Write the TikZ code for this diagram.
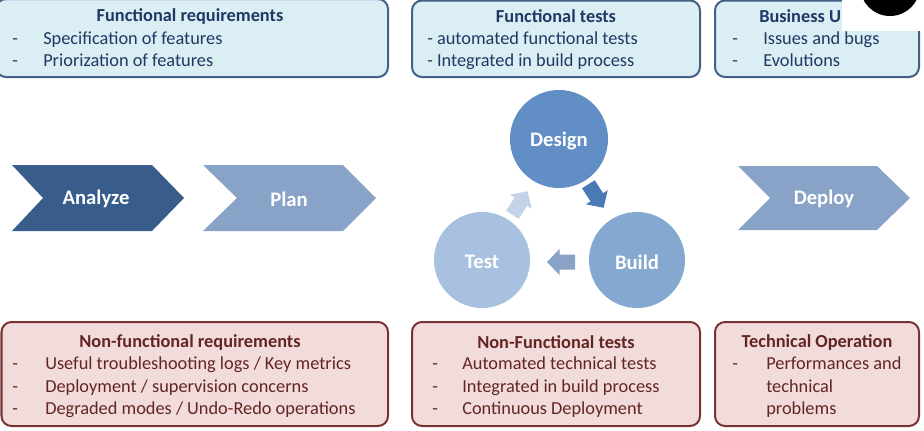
\documentclass[tikz,border=0pt]{standalone}
\usepackage{xcolor}
\usepackage{tikz}
\usepackage{fontspec}
\setmainfont{Carlito}

\definecolor{funcfill}{RGB}{219,238,244}
\definecolor{funcline}{RGB}{67,96,135}
\definecolor{functext}{RGB}{31,56,100}
\definecolor{nffill}{RGB}{242,220,219}
\definecolor{nfline}{RGB}{120,52,50}
\definecolor{nftext}{RGB}{99,37,35}
\definecolor{analyzecol}{RGB}{56,93,138}
\definecolor{plancol}{RGB}{137,162,200}
\definecolor{designcol}{RGB}{96,142,197}
\definecolor{buildcol}{RGB}{133,168,208}
\definecolor{testcol}{RGB}{168,193,224}
\definecolor{arrowone}{RGB}{74,122,181}
\definecolor{arrowthree}{RGB}{196,211,231}

\tikzset{
  funcbox/.style={draw=funcline,fill=funcfill,line width=1.5pt,rounded corners=7.5pt},
  nfbox/.style={draw=nfline,fill=nffill,line width=1.5pt,rounded corners=7.5pt},
  functitle/.style={text=functext,font=\fontsize{13.75}{16}\selectfont\bfseries},
  funcitem/.style={text=functext,font=\fontsize{13.75}{16}\selectfont,anchor=west,inner sep=0pt,text height=1.5ex,text depth=0.3ex},
  nftitle/.style={text=nftext,font=\fontsize{13.75}{16}\selectfont\bfseries},
  nfitem/.style={text=nftext,font=\fontsize{13.75}{16}\selectfont,anchor=west,inner sep=0pt,text height=1.5ex,text depth=0.3ex},
  phase/.style={text=white,font=\fontsize{15.5}{18}\selectfont\bfseries},
}

\begin{document}
\begin{tikzpicture}[x=0.75pt,y=0.75pt,yscale=-1]
\useasboundingbox (0,0) rectangle (924,430);

%Shape: Rectangle [top left]
\draw [funcbox] (-4,-1) rectangle (388,77);
%Shape: Rectangle [top middle]
\draw [funcbox] (412,0.5) rectangle (700,77);
%Shape: Rectangle [top right]
\draw [funcbox] (715,0.5) rectangle (919,77);

%Shape: Rectangle [bottom left]
\draw [nfbox] (1.5,322) rectangle (388,426);
%Shape: Rectangle [bottom middle]
\draw [nfbox] (412,322) rectangle (700,426);
%Shape: Rectangle [bottom right]
\draw [nfbox] (715,322) rectangle (919,426);

% Text Node
\draw (190,16) node [functitle] (freqtitle) {Functional requirements};
\draw (12,41) node [funcitem] (freqdasha) {-};
\draw (43,41) node [funcitem] (freqa) {Specification of features};
\draw (12,63) node [funcitem] (freqdashb) {-};
\draw (43,63) node [funcitem] (freqb) {Priorization of features};

% Text Node
\draw (556,16) node [functitle] (ftesttitle) {Functional tests};
\draw (427,41) node [funcitem] (ftesta) {- automated functional tests};
\draw (427,63) node [funcitem] (ftestb) {- Integrated in build process};

% Text Node
\draw (759,16) node [functitle,anchor=west,inner sep=0pt] (bustitle) {Business U};
\draw (732,41) node [funcitem] (busdasha) {-};
\draw (763,41) node [funcitem] (busa) {Issues and bugs};
\draw (732,63) node [funcitem] (busdashb) {-};
\draw (763,63) node [funcitem] (busb) {Evolutions};

% Text Node
\draw (190,342) node [nftitle] (nfreqtitle) {Non-functional requirements};
\draw (12,366) node [nfitem] (nfreqdasha) {-};
\draw (45,366) node [nfitem] (nfreqa) {Useful troubleshooting logs / Key metrics};
\draw (12,389) node [nfitem] (nfreqdashb) {-};
\draw (45,389) node [nfitem] (nfreqb) {Deployment / supervision concerns};
\draw (12,411) node [nfitem] (nfreqdashc) {-};
\draw (45,411) node [nfitem] (nfreqc) {Degraded modes / Undo-Redo operations};

% Text Node
\draw (556,342) node [nftitle] (nftesttitle) {Non-Functional tests};
\draw (432,366) node [nfitem] (nftestdasha) {-};
\draw (462,366) node [nfitem] (nftesta) {Automated technical tests};
\draw (432,389) node [nfitem] (nftestdashb) {-};
\draw (462,389) node [nfitem] (nftestb) {Integrated in build process};
\draw (432,411) node [nfitem] (nftestdashc) {-};
\draw (462,411) node [nfitem] (nftestc) {Continuous Deployment};

% Text Node
\draw (817,342) node [nftitle] (techtitle) {Technical Operation};
\draw (732,366) node [nfitem] (techdash) {-};
\draw (766,366) node [nfitem] (techa) {Performances and};
\draw (766,389) node [nfitem] (techb) {technical};
\draw (766,411) node [nfitem] (techc) {problems};

%Shape: Chevron [analyze]
\fill [analyzecol] (12,165) -- (152,165) -- (184,198) -- (152,231) -- (12,231) -- (43,198) -- cycle;
%Shape: Chevron [plan]
\fill [plancol] (203,165) -- (343,165) -- (376,198) -- (343,231) -- (203,231) -- (237,198) -- cycle;
%Shape: Chevron [deploy]
\fill [plancol] (738,166) -- (877,166) -- (910,198) -- (877,230) -- (738,230) -- (770,198) -- cycle;

% Text Node
\draw (96,199) node [phase] (analyze) {Analyze};
\draw (289,199) node [phase] (plan) {Plan};
\draw (824,199) node [phase] (deploy) {Deploy};

%Shape: Circle [design]
\fill [designcol] (559,139) circle (49);
%Shape: Circle [build]
\fill [buildcol] (637,260) circle (48);
%Shape: Circle [test]
\fill [testcol] (482,260) circle (48);

% Text Node
\draw (559,141) node [phase] (design) {Design};
\draw (637,262) node [phase] (build) {Build};
\draw (482,262) node [phase] (test) {Test};

%Shape: Block Arrow [design to build]
\fill [arrowone,shift={(596,196)},rotate=57] (-14,-7.5) -- (1.5,-7.5) -- (1.5,-13) -- (14,0) -- (1.5,13) -- (1.5,7.5) -- (-14,7.5) -- cycle;
%Shape: Block Arrow [build to test]
\fill [plancol,shift={(561,262)},rotate=180] (-14,-7.5) -- (1.5,-7.5) -- (1.5,-13) -- (14,0) -- (1.5,13) -- (1.5,7.5) -- (-14,7.5) -- cycle;
%Shape: Block Arrow [test to design]
\fill [arrowthree,shift={(520,203)},rotate=-57] (-14,-7.5) -- (1.5,-7.5) -- (1.5,-13) -- (14,0) -- (1.5,13) -- (1.5,7.5) -- (-14,7.5) -- cycle;

%Shape: cover [top right corner]
\fill [white] (842,-1) rectangle (925,31);
\fill [black] (890,-14) circle (30);

\end{tikzpicture}
\end{document}
